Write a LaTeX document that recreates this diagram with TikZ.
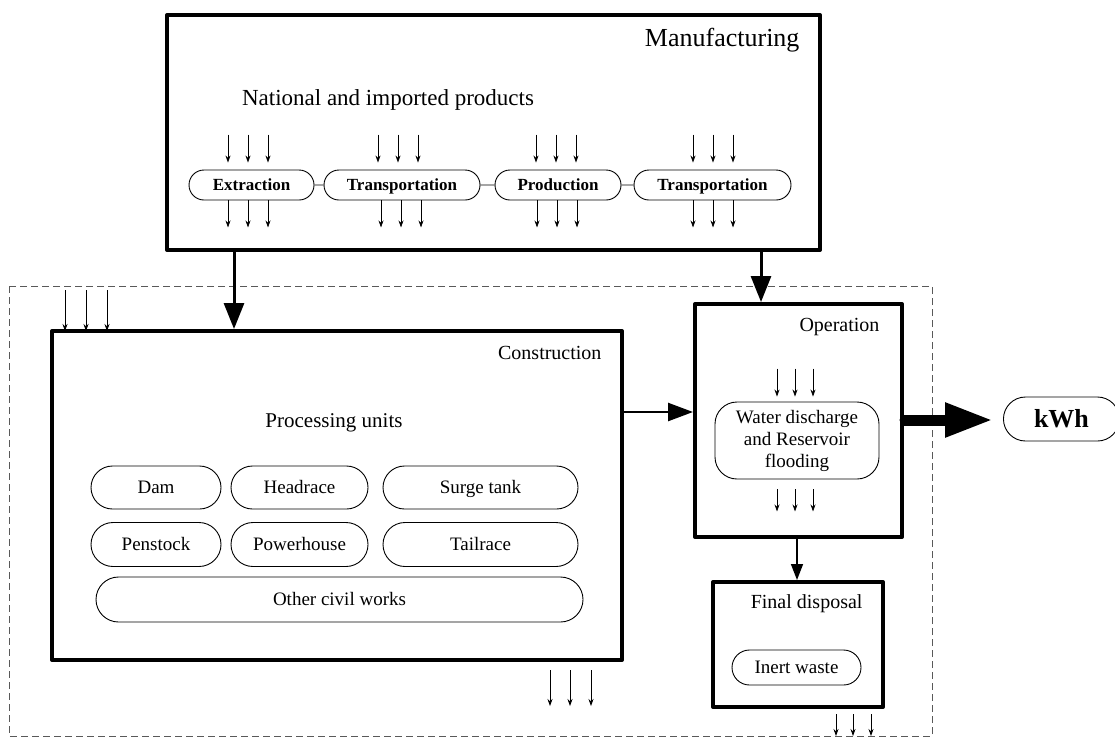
\documentclass[tikz,border=0pt]{standalone}
\usepackage{fontspec}
\setmainfont{Liberation Serif}
\usetikzlibrary{arrows.meta,shapes.misc}
\begin{document}
\begin{tikzpicture}[x=1pt,y=-1pt,
  bigbox/.style={draw,line width=4pt,line join=round},
  pill/.style={draw,line width=0.9pt,rounded rectangle,inner sep=0pt,text height=12.5pt,text depth=0pt,font=\fontsize{19}{21}\selectfont},
  pillb/.style={pill,text height=11.2pt,font=\fontsize{17}{19}\selectfont\bfseries},
  sarr/.style={-{Stealth[length=7pt,width=5pt]},line width=0.8pt},
  title/.style={anchor=east,font=\fontsize{20}{22}\selectfont},
]
\useasboundingbox (0,0) rectangle (1115,737);
% dashed boundary
\draw[gray!70!black,line width=1pt,dash pattern=on 7pt off 4pt] (9,286) rectangle (932,736);
% Manufacturing
\node[bigbox,minimum width=653pt,minimum height=235pt,anchor=north west] (man) at (165,13) {};
\node[title,font=\fontsize{26}{28}\selectfont] (mant) at (803,40) {Manufacturing};
\node[font=\fontsize{23}{25}\selectfont] (nat) at (388,100) {National and imported products};
\node[pillb,minimum width=125pt,minimum height=30pt] (ext) at (251.5,185) {Extraction};
\node[pillb,minimum width=156pt,minimum height=30pt] (tr1) at (402,185) {Transportation};
\node[pillb,minimum width=126pt,minimum height=30pt] (pro) at (558,185) {Production};
\node[pillb,minimum width=157pt,minimum height=30pt] (tr2) at (712.5,185) {Transportation};
\draw[line width=0.8pt] (ext) -- (tr1);
\draw[line width=0.8pt] (tr1) -- (pro);
\draw[line width=0.8pt] (pro) -- (tr2);
\foreach \n/\a/\b in {ext/-3.5/-3.5,tr1/-4/-1,pro/-2/-1,tr2/0.5/0.5}{
  \foreach \d in {-20,0,20}{
    \draw[sarr] ([xshift=\d pt+\a pt,yshift=35pt]\n.north) -- ([xshift=\d pt+\a pt,yshift=7pt]\n.north);
    \draw[sarr] ([xshift=\d pt+\b pt]\n.south) -- ([xshift=\d pt+\b pt,yshift=-27pt]\n.south);
  }
}
% Construction
\node[bigbox,minimum width=570pt,minimum height=329pt,anchor=north west] (con) at (50,329) {};
\node[title] (cont) at (605,353) {Construction};
\node[font=\fontsize{21}{23}\selectfont] (pu) at (334,423) {Processing units};
\node[pill,minimum width=130pt,minimum height=43pt] (dam) at (156,487.5) {Dam};
\node[pill,minimum width=137pt,minimum height=43pt] (head) at (299.5,487.5) {Headrace};
\node[pill,minimum width=195pt,minimum height=43pt] (surge) at (480.5,487.5) {Surge tank};
\node[pill,minimum width=130pt,minimum height=44pt] (pen) at (156,544.5) {Penstock};
\node[pill,minimum width=137pt,minimum height=44pt] (pow) at (299.5,544.5) {Powerhouse};
\node[pill,minimum width=195pt,minimum height=44pt] (tail) at (480.5,544.5) {Tailrace};
\node[pill,minimum width=487pt,minimum height=45pt] (oth) at (339.5,599.5) {Other civil works};
\foreach \d in {-20,0,21}{
  \draw[sarr] ([xshift=\d pt+233pt,yshift=-8pt]con.south) -- ([xshift=\d pt+233pt,yshift=-44pt]con.south);
}
\coordinate (cin) at (86,290);
\foreach \d in {-21,0,21}{
  \draw[sarr] ([xshift=\d pt]cin) -- ([xshift=\d pt,yshift=-2pt]cin |- con.north);
}
% Operation
\node[bigbox,minimum width=207pt,minimum height=233pt,anchor=north west] (op) at (693,302) {};
\node[title] (opt) at (883,327) {Operation};
\node[draw,line width=0.9pt,rectangle,rounded corners=22pt,inner sep=0pt,minimum width=164pt,minimum height=77pt,align=center,font=\fontsize{19}{22}\selectfont] (wat) at (797,440.5) {Water discharge\\and Reservoir\\flooding};
\foreach \d in {-18,0,18}{
  \draw[sarr] ([xshift=\d pt-2pt,yshift=33pt]wat.north) -- ([xshift=\d pt-2pt,yshift=5pt]wat.north);
  \draw[sarr] ([xshift=\d pt-2pt,yshift=-10pt]wat.south) -- ([xshift=\d pt-2pt,yshift=-32pt]wat.south);
}
% Final disposal
\node[bigbox,minimum width=170pt,minimum height=125pt,anchor=north west] (fin) at (711,580) {};
\node[title] (fint) at (866,604) {Final disposal};
\node[pill,minimum width=129pt,minimum height=35pt] (inert) at (796.5,667.5) {Inert waste};
\foreach \d in {-17,0,18}{
  \draw[sarr] ([xshift=\d pt+55pt,yshift=-5pt]fin.south) -- ([xshift=\d pt+55pt,yshift=-27pt]fin.south);
}
% kWh
\node[pill,minimum width=116pt,minimum height=44pt,anchor=west,text height=17pt,font=\fontsize{26}{28}\selectfont\bfseries] (kwh) at (1003,419) {kWh};
% main connectors
\draw[line width=3pt,-{Triangle[length=26pt,width=20pt]}] (man.south -| 234,0) -- (con.north -| 234,0);
\draw[line width=3pt,-{Triangle[length=26pt,width=20pt]}] (man.south -| 761,0) -- (op.north -| 761,0);
\draw[line width=2.5pt,-{Triangle[length=25pt,width=18pt]}] (con.east |- 0,412) -- (op.west |- 0,412);
\draw[line width=1.5pt,-{Triangle[length=16pt,width=12pt]}] (op.south -| 797,0) -- (fin.north -| 797,0);
\fill (op.east |- 0,420) circle (4.5pt);
\draw[line width=11pt,-{Triangle[length=48pt,width=32pt]}] (op.east |- 0,420) -- ([xshift=-10pt]kwh.west |- 0,420);
\end{tikzpicture}
\end{document}
